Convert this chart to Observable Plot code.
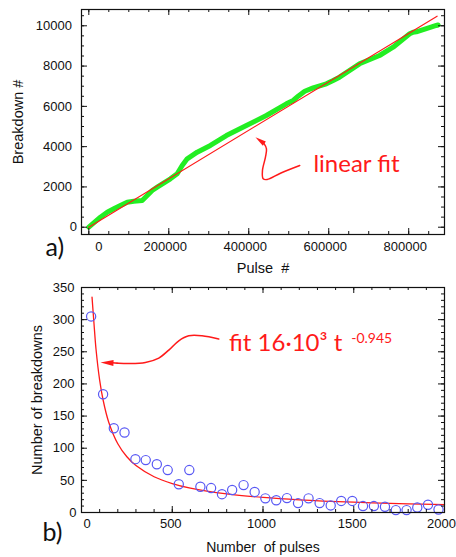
<!DOCTYPE html>
<html><head><meta charset="utf-8">
<script src="https://cdn.jsdelivr.net/npm/d3@7"></script>
<script src="https://cdn.jsdelivr.net/npm/@observablehq/plot@0.6"></script>
<style>
body{margin:0;background:#fff;}
#chart svg{display:block;}
</style></head><body><div id="chart"></div>
<script>
// ---------- Panel a) : cumulative breakdowns vs pulse number ----------
const pulse = [0, 29000, 46000, 62500, 79000, 96000, 112500, 133500, 146000, 158500, 171000, 204000, 221000, 233500, 246000, 271000, 304000, 344000, 394000, 444000, 494000, 511000, 523500, 540000, 561000, 594000, 611000, 627000, 677000, 727000, 761000, 802500, 811000, 819000, 869000, 873500];
const breakdown = [0, 497, 745, 913, 1077, 1241, 1291, 1326, 1574, 1822, 1986, 2403, 2651, 3063, 3396, 3724, 4057, 4553, 5050, 5546, 6127, 6291, 6505, 6753, 6921, 7120, 7284, 7448, 8113, 8525, 8937, 9603, 9682, 9700, 10015, 10040];
const fitPulse = [0, 871000];
const fitBreakdown = [0, 10477];
const pulseTicks = [0, 200000, 400000, 600000, 800000];
const breakdownTicks = [0, 2000, 4000, 6000, 8000, 10000];

// annotation arrow a) (data space)
const arrowAPulse = [527500, 479250, 446000, 436000, 434250, 441750, 444250, 437500];
const arrowABreak = [3063, 2681, 2368, 2403, 2815, 3476, 3893, 4171];
const tipA = [{x: 416750, y: 4469}];
const labelA = [{x: 561750, y: 2741, text: "linear fit"}];

// ---------- Panel b) : breakdowns per interval vs number of pulses ----------
const nPulses = [53, 119, 178, 237, 297, 354, 415, 475, 536, 594, 655, 714, 774, 830, 893, 954, 1013, 1073, 1132, 1193, 1251, 1312, 1373, 1431, 1492, 1551, 1611, 1672, 1732, 1791, 1850, 1909, 1967];
const nBreakdowns = [305, 184, 131, 124.5, 83, 81.5, 75, 66, 44, 66, 40, 38, 28.5, 35, 42.6, 32, 22, 19, 22.4, 14.6, 22, 14.6, 11, 18, 18, 10, 10, 8.9, 3.7, 3.7, 7.8, 12, 4.7];
const fitT = [58, 68, 80, 100, 119, 150, 200, 250, 300, 400, 500, 600, 800, 1000, 1200, 1500, 1800, 2000];
const fitN = [335, 297, 254, 206, 175, 140.5, 107, 86.7, 73, 55.6, 45, 37.9, 28.9, 23.4, 19.7, 16, 13.4, 12.2];
const pulsesTicks = [0, 500, 1000, 1500, 2000];
const breakdownsTicks = [0, 50, 100, 150, 200, 250, 300, 350];

const arrowBT = [756, 664, 591, 536, 481, 426, 352, 260, 196.5, 170.7];
const arrowBN = [269.8, 274.9, 274.9, 267.1, 252.6, 240.2, 233.4, 231.8, 232.4, 232.9];
const tipB = [{x: 104.6, y: 233.4}];
const labelB = [{x: 813, y: 251.6, text: "fit 16·10³ t"}];
const labelBexp = [{x: 1486, y: 263.2, text: "-0.945"}];

// ---------- helpers ----------
const W = 456;
const FONT = "'Liberation Sans', Arial, Helvetica, sans-serif";
const ANNOT = "Lato, 'Open Sans', sans-serif";
const RED = "#ff1a1a";
const INK = "#111";

function frameTicks(xMajor, xMinor, yMajor, yMinor, innerW, innerH) {
  const o = {stroke: INK, strokeWidth: 1};
  const L = 6, S = 3;
  return [
    Plot.tickX(xMajor, {x: d => d, insetTop: innerH - L, ...o}),
    Plot.tickX(xMajor, {x: d => d, insetBottom: innerH - L, ...o}),
    Plot.tickX(xMinor, {x: d => d, insetTop: innerH - S, ...o}),
    Plot.tickX(xMinor, {x: d => d, insetBottom: innerH - S, ...o}),
    Plot.tickY(yMajor, {y: d => d, insetRight: innerW - L, ...o}),
    Plot.tickY(yMajor, {y: d => d, insetLeft: innerW - L, ...o}),
    Plot.tickY(yMinor, {y: d => d, insetRight: innerW - S, ...o}),
    Plot.tickY(yMinor, {y: d => d, insetLeft: innerW - S, ...o})
  ];
}
function arrowHead(len, half) {
  return {draw(ctx) { ctx.moveTo(0, 0); ctx.lineTo(-half, len); ctx.lineTo(half, len); ctx.closePath(); }};
}
const lab = {tickSize: 0, tickFormat: d => String(d), label: null, fontSize: 13, fill: INK};
const style = {fontFamily: FONT, fontSize: "13px", color: INK, background: "white", overflow: "visible", whiteSpace: "pre"};

// ---------- Plot a ----------
const A = {h: 276, mt: 9, mb: 42, ml: 81, mr: 12};
const innerWA = W - A.ml - A.mr, innerHA = A.h - A.mt - A.mb;
const seriesA = pulse.map((p, i) => ({p, b: breakdown[i]}));
const fitA = fitPulse.map((p, i) => ({p, b: fitBreakdown[i]}));
const arrA = arrowAPulse.map((p, i) => ({p, b: arrowABreak[i]}));

const plotA = Plot.plot({
  width: W, height: A.h,
  marginTop: A.mt, marginBottom: A.mb, marginLeft: A.ml, marginRight: A.mr,
  style,
  x: {domain: [-18300, 889500]},
  y: {domain: [-362, 10809]},
  marks: [
    Plot.line(seriesA, {x: "p", y: "b", stroke: "#22ee22", strokeWidth: 5, strokeLinecap: "round", strokeLinejoin: "round"}),
    Plot.line(fitA, {x: "p", y: "b", stroke: RED, strokeWidth: 1.2}),
    Plot.line(arrA, {x: "p", y: "b", stroke: RED, strokeWidth: 1.5, curve: "catmull-rom"}),
    Plot.dot(tipA, {x: "x", y: "y", symbol: arrowHead(11, 2.6), fill: RED, stroke: "none", rotate: -54}),
    Plot.text(labelA, {x: "x", y: "y", text: "text", fill: RED, fontFamily: ANNOT, fontSize: 24, textAnchor: "start", lineAnchor: "bottom"}),
    Plot.frame({stroke: INK, strokeWidth: 1.2}),
    ...frameTicks(pulseTicks, d3.range(0, 890000, 50000), breakdownTicks, d3.range(0, 10800, 500), innerWA, innerHA),
    Plot.axisX(pulseTicks.filter(d => d !== 0), {...lab, tickPadding: 7, dx: -3.5}),
    Plot.axisX([0], {...lab, tickPadding: 7, dx: 10}),
    Plot.axisY(breakdownTicks.filter(d => d !== 0), {...lab, tickPadding: 9.5}),
    Plot.axisY([0], {...lab, tickPadding: 4.5}),
    Plot.text(["Breakdown #"], {text: d => d, frameAnchor: "left", dx: -63, rotate: -90, fontSize: 14.5, textAnchor: "middle", lineAnchor: "middle", fill: INK}),
    Plot.text(["Pulse  #"], {text: d => d, frameAnchor: "bottom", dy: 34, fontSize: 14.5, textAnchor: "middle", lineAnchor: "middle", fill: INK}),
    Plot.text(["a)"], {text: d => d, frameAnchor: "bottom-left", dx: -36, dy: 21, fontFamily: ANNOT, fontSize: 25, textAnchor: "start", lineAnchor: "bottom", fill: INK})
  ]
});

// ---------- Plot b ----------
const B = {h: 281, mt: 11, mb: 45, ml: 81, mr: 12};
const innerWB = W - B.ml - B.mr, innerHB = B.h - B.mt - B.mb;
const pointsB = nPulses.map((t, i) => ({t, n: nBreakdowns[i]}));
const fitB = fitT.map((t, i) => ({t, n: fitN[i]}));
const arrB = arrowBT.map((t, i) => ({t, n: arrowBN[i]}));
const lastT = pulsesTicks[pulsesTicks.length - 1];

const plotB = Plot.plot({
  width: W, height: B.h,
  marginTop: B.mt, marginBottom: B.mb, marginLeft: B.ml, marginRight: B.mr,
  style,
  x: {domain: [0, 2000]},
  y: {domain: [0, 350]},
  marks: [
    Plot.line(fitB, {x: "t", y: "n", stroke: RED, strokeWidth: 1.3, curve: "catmull-rom"}),
    Plot.dot(pointsB, {x: "t", y: "n", r: 4.6, stroke: "#5858f4", strokeWidth: 1.2, fill: "none"}),
    Plot.line(arrB, {x: "t", y: "n", stroke: RED, strokeWidth: 1.6, curve: "catmull-rom"}),
    Plot.dot(tipB, {x: "x", y: "y", symbol: arrowHead(13, 3), fill: RED, stroke: "none", rotate: -88}),
    Plot.text(labelB, {x: "x", y: "y", text: "text", fill: RED, fontFamily: ANNOT, fontSize: 24, textAnchor: "start", lineAnchor: "bottom"}),
    Plot.text(labelBexp, {x: "x", y: "y", text: "text", fill: RED, fontFamily: ANNOT, fontSize: 14, textAnchor: "start", lineAnchor: "bottom"}),
    Plot.frame({stroke: INK, strokeWidth: 1.2}),
    ...frameTicks(pulsesTicks, d3.range(0, 2001, 100), breakdownsTicks, d3.range(0, 351, 10), innerWB, innerHB),
    Plot.axisX(pulsesTicks.filter(d => d !== 0 && d !== lastT), {...lab, tickPadding: 6.5, dx: -1.5}),
    Plot.axisX([0], {...lab, tickPadding: 6.5, dx: 5.5}),
    Plot.axisX([lastT], {...lab, tickPadding: 6.5, textAnchor: "end", dx: 11.5}),
    Plot.axisY(breakdownsTicks.filter(d => d !== 0), {...lab, tickPadding: 7}),
    Plot.axisY([0], {...lab, tickPadding: 5}),
    Plot.text(["Number of breakdowns"], {text: d => d, frameAnchor: "left", dx: -44, rotate: -90, fontSize: 14.5, textAnchor: "middle", lineAnchor: "middle", fill: INK}),
    Plot.text(["Number  of pulses"], {text: d => d, frameAnchor: "bottom", dy: 35, fontSize: 14, textAnchor: "middle", lineAnchor: "middle", fill: INK}),
    Plot.text(["b)"], {text: d => d, frameAnchor: "bottom-left", dx: -39, dy: 28, fontFamily: ANNOT, fontSize: 25, textAnchor: "start", lineAnchor: "bottom", fill: INK})
  ]
});

document.getElementById("chart").append(plotA, plotB);
</script></body></html>
